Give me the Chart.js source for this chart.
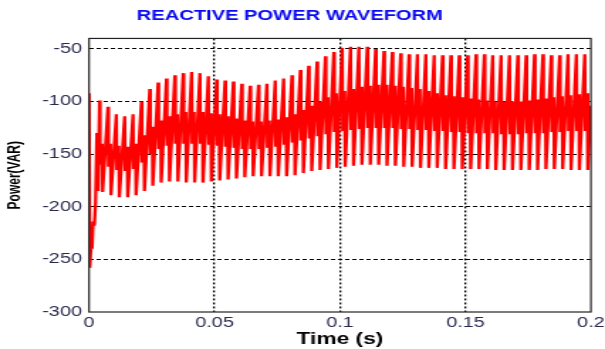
<!DOCTYPE html>
<html>
<head>
<meta charset="utf-8">
<script src="https://cdn.jsdelivr.net/npm/chart.js"></script>
<style>
  html, body { margin: 0; padding: 0; background: #fff; overflow: hidden; }
  /* the original figure is stretched sideways, so draw narrow and stretch */
  #wrap { width: 426px; height: 349px; transform: scaleX(1.4202); transform-origin: 0 0; }
</style>
</head>
<body>
<div id="wrap"><canvas id="chart" width="426" height="349"></canvas></div>
<script>
// --- data ---
const xTicks = [0, 0.05, 0.1, 0.15, 0.2];
const xTickLabels = ['0', '0.05', '0.1', '0.15', '0.2'];
const yTicks = [-300, -250, -200, -150, -100, -50];

// start-up transient (time in s, power in VAR)
const startT = [0, 0.0003, 0.0008, 0.0012, 0.0016, 0.0021, 0.0026, 0.0031, 0.0036];
const startV = [-92, -258, -236, -240, -214, -218, -196, -130, -185];

// one entry per ripple cycle: peak, first dip, second bump, trough
const cycleTop = [
  -99, -105, -112, -114, -112, -100, -88, -82, -78, -75,
  -73, -72, -73, -76, -79, -80, -81, -83, -85, -84,
  -83, -80, -78, -75, -70, -66, -62, -57, -53, -49,
  -48, -48, -48, -50, -52, -53, -54, -55, -55, -55,
  -56, -56, -56, -56, -56, -55, -55, -56, -56, -56,
  -56, -56, -55, -55, -56, -56, -55, -55, -55
];
const cycleMidLow = [
  -160, -162, -165, -166, -164, -158, -150, -145, -142, -140,
  -140, -140, -140, -141, -142, -143, -144, -145, -145, -145,
  -144, -143, -141, -139, -137, -135, -133, -131, -129, -128,
  -127, -126, -125, -125, -125, -125, -126, -126, -127, -127,
  -128, -128, -129, -129, -130, -130, -130, -130, -131, -131,
  -131, -130, -130, -130, -129, -129, -128, -128, -128
];
const cycleMidHigh = [
  -140, -140, -142, -143, -140, -132, -124, -118, -114, -112,
  -110, -110, -110, -111, -112, -114, -116, -118, -119, -119,
  -118, -117, -115, -112, -108, -104, -100, -96, -92, -90,
  -88, -86, -85, -84, -84, -85, -86, -87, -88, -90,
  -92, -94, -95, -96, -97, -98, -99, -100, -100, -100,
  -100, -99, -98, -97, -96, -95, -94, -93, -92
];
const cycleBottom = [
  -186, -189, -191, -191, -189, -185, -180, -177, -176, -176,
  -177, -177, -177, -176, -175, -174, -173, -172, -171, -171,
  -171, -171, -171, -170, -168, -166, -165, -164, -163, -162,
  -161, -160, -160, -160, -161, -161, -162, -162, -163, -163,
  -163, -164, -164, -164, -164, -164, -164, -165, -165, -165,
  -165, -165, -165, -164, -164, -164, -165, -165, -165
];

const endT = [0.2];
const endV = [-104];

const firstCycle = 0.0042;      // time of first ripple peak
const cyclePeriod = 0.2 / 60;   // ripple period
// where in the cycle each point sits: peak, dip, bump, trough
const phase = [0, 0.06, 0.3, 0.36];

// --- build the series ---
const points = startT.map((t, i) => ({ x: t, y: startV[i] }));
cycleTop.forEach((top, j) => {
  const t0 = firstCycle + j * cyclePeriod;
  [top, cycleMidLow[j], cycleMidHigh[j], cycleBottom[j]].forEach((v, k) => {
    points.push({ x: t0 + phase[k] * cyclePeriod, y: v });
  });
});
endT.forEach((t, i) => points.push({ x: t, y: endV[i] }));

// box round the plot area
const frame = {
  id: 'frame',
  afterDraw(chart) {
    const { ctx, chartArea: a } = chart;
    ctx.save();
    ctx.strokeStyle = '#222';
    ctx.lineWidth = 1.2;
    ctx.strokeRect(a.left, a.top, a.width, a.height);
    ctx.restore();
  }
};

const tickFont = { family: 'Liberation Sans, Arial, sans-serif', size: 14 };

new Chart(document.getElementById('chart'), {
  type: 'line',
  data: {
    datasets: [{
      data: points,
      borderColor: '#ff0000',
      borderWidth: 2.3,
      borderJoinStyle: 'bevel',
      pointRadius: 0,
      tension: 0,
      fill: false
    }]
  },
  options: {
    responsive: false,
    animation: false,
    parsing: false,
    // negative left padding moves the title's centre to where the original has it
    layout: { padding: { left: -8, right: 9.9, top: 0, bottom: 0 } },
    plugins: {
      legend: { display: false },
      tooltip: { enabled: false },
      title: {
        display: true,
        text: 'REACTIVE POWER WAVEFORM',
        color: '#0a0af0',
        font: { family: 'Liberation Sans, Arial, sans-serif', size: 14.2, weight: 'bold' },
        padding: { top: 8, bottom: 13.4 }
      }
    },
    scales: {
      x: {
        type: 'linear',
        min: 0,
        max: 0.2,
        z: 1,
        afterBuildTicks: (s) => { s.ticks = xTicks.map(v => ({ value: v })); },
        afterFit: (s) => { s.height = 37; s.paddingRight = 0; s.paddingLeft = 0; },
        ticks: {
          color: '#2a2a50',
          font: tickFont,
          padding: 3,
          maxRotation: 0,
          callback: (v, i) => xTickLabels[i]
        },
        grid: {
          drawTicks: false,
          lineWidth: 1.3,
          color: (c) => (c.index === 0 || c.index === xTicks.length - 1) ? 'rgba(0,0,0,0)' : '#000'
        },
        border: { display: false, dash: [2, 2] },
        title: {
          display: true,
          text: 'Time (s)',
          color: '#000',
          font: { family: 'Liberation Sans, Arial, sans-serif', size: 16, weight: 'bold' },
          padding: { top: 0, bottom: 0 }
        }
      },
      y: {
        min: -300,
        max: -40,
        z: 1,
        afterBuildTicks: (s) => { s.ticks = yTicks.map(v => ({ value: v })); },
        afterFit: (s) => { s.width = 70.7; },
        ticks: {
          color: '#2a2a50',
          font: tickFont,
          padding: 5
        },
        grid: {
          drawTicks: false,
          lineWidth: 1,
          color: (c) => c.index === 0 ? 'rgba(0,0,0,0)' : '#000'
        },
        border: { display: false, dash: [3, 2] },
        title: {
          display: true,
          text: 'Power(VAR)',
          color: '#000',
          font: { family: 'Liberation Sans, Arial, sans-serif', size: 12, weight: 'bold' },
          padding: { top: 11.4, bottom: 0 }
        }
      }
    }
  },
  plugins: [frame]
});
</script>
</body>
</html>
